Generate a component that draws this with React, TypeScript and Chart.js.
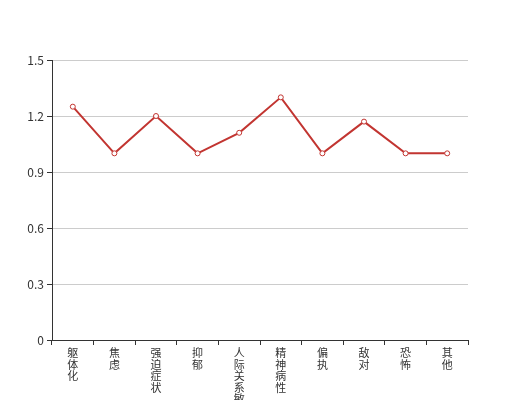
import React, { useEffect, useRef } from "react";
import { Chart, registerables } from "chart.js";

Chart.register(...registerables);

const categories = ["躯体化", "焦虑", "强迫症状", "抑郁", "人际关系敏感", "精神病性", "偏执", "敌对", "恐怖", "其他"];
const values = [1.25, 1.0, 1.2, 1.0, 1.11, 1.3, 1.0, 1.17, 1.0, 1.0];
const yTicks = [0, 0.3, 0.6, 0.9, 1.2, 1.5];

export default function App() {
  const ref = useRef<HTMLCanvasElement>(null);
  useEffect(() => {
    document.body.style.margin = "0";
    const ctx = ref.current!;
    const chart = new Chart(ctx, {
      type: "line",
      data: {
        labels: categories.map((c) => c.split("")),
        datasets: [
          {
            data: values,
            borderColor: "#c23531",
            backgroundColor: "#ffffff",
            borderWidth: 2,
            pointRadius: 2.5,
            pointBorderWidth: 1,
            pointBorderColor: "#c23531",
            pointBackgroundColor: "#ffffff",
            tension: 0,
            fill: false,
          },
        ],
      },
      options: {
        responsive: false,
        animation: false,
        layout: { padding: { left: 0, top: 60, right: 52, bottom: 0 } },
        plugins: { legend: { display: false }, tooltip: { enabled: false } },
        scales: {
          x: {
            offset: true,
            border: { color: "#333", width: 1 },
            grid: {
              offset: true,
              drawOnChartArea: false,
              drawTicks: true,
              tickLength: 5,
              color: "#333",
              tickColor: "#333",
            },
            ticks: {
              maxRotation: 0,
              minRotation: 0,
              autoSkip: false,
              padding: 2,
              color: "#333",
              font: { size: 11, family: "'Noto Sans CJK SC', sans-serif", lineHeight: 1.05 },
            },
            afterFit: (s: any) => {
              s.height = 60;
            },
          },
          y: {
            min: 0,
            max: 1.5,
            border: { color: "#333", width: 1 },
            grid: { color: "#cccccc", tickColor: "#333", tickLength: 5 },
            afterBuildTicks: (s: any) => {
              s.ticks = yTicks.map((v) => ({ value: v }));
            },
            ticks: {
              padding: 3,
              color: "#333",
              font: { size: 12, family: "'Noto Sans CJK SC', sans-serif" },
              callback: (v: any) => String(Number(v)),
            },
            afterFit: (s: any) => {
              s.width = 52;
            },
          },
        },
      },
    });
    return () => chart.destroy();
  }, []);
  return (
    <div style={{ position: "fixed", left: 0, top: 0, width: 520, height: 400, background: "#fff" }}>
      <canvas ref={ref} width={520} height={400} style={{ width: 520, height: 400 }} />
    </div>
  );
}
